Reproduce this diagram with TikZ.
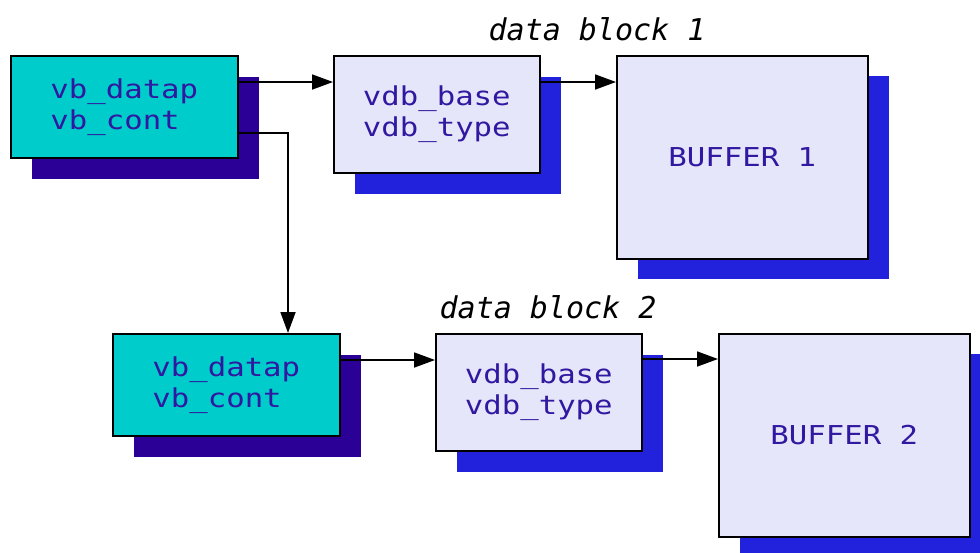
\documentclass[tikz,border=0pt]{standalone}
\usepackage{fontspec}
\newfontfamily\boxfont[FakeStretch=1.18]{DejaVu Sans Mono}
\newfontfamily\lblfont{DejaVu Sans Mono}
\usetikzlibrary{arrows.meta,shadows,calc}
\definecolor{tealfill}{RGB}{0,204,204}
\definecolor{navyshadow}{RGB}{42,0,150}
\definecolor{lavfill}{RGB}{230,230,250}
\definecolor{blueshadow}{RGB}{34,34,221}
\definecolor{txtblue}{RGB}{48,24,160}
\begin{document}
\begin{tikzpicture}[x=1pt,y=-1pt,
  box/.style={draw=black, line width=1.6pt, inner sep=0pt, anchor=north west,
    font=\boxfont\fontsize{26}{31}\selectfont, text=txtblue, align=left},
  vbbox/.style={box, fill=tealfill, minimum width=227pt, minimum height=102pt,
    general shadow={draw=none, fill=navyshadow, shadow xshift=21pt, shadow yshift=-21pt}},
  vdbbox/.style={box, fill=lavfill, minimum width=206pt, minimum height=117pt,
    general shadow={draw=none, fill=blueshadow, shadow xshift=21pt, shadow yshift=-21pt}},
  bufbox/.style={box, fill=lavfill, minimum width=251pt, minimum height=203pt,
    general shadow={draw=none, fill=blueshadow, shadow xshift=21pt, shadow yshift=-20pt}},
  lbl/.style={font=\lblfont\itshape\fontsize{30}{36}\selectfont, text=black, inner sep=0pt, anchor=base},
  arr/.style={line width=1.8pt, -{Triangle[length=21pt,width=15pt]}}
]
\useasboundingbox (0,0) rectangle (980,552);
\clip (0,0) rectangle (980,552);

\node[vbbox] (a1) at (10,55) {vb\_datap\\vb\_cont};
\node[vdbbox] (b1) at (333,55) {vdb\_base\\vdb\_type};
\node[bufbox] (c1) at (616,55) {BUFFER 1};

\node[vbbox] (a2) at (112,333) {vb\_datap\\vb\_cont};
\node[vdbbox] (b2) at (435,333) {vdb\_base\\vdb\_type};
\node[bufbox] (c2) at (718,333) {BUFFER 2};

\node[lbl] (l1) at (597,40) {data block 1};
\node[lbl] (l2) at (548,318) {data block 2};

\draw[arr] ($(a1.north east)+(0,27)$) -- ($(b1.north west)+(0,27)$);
\draw[arr] ($(b1.north east)+(0,27)$) -- ($(c1.north west)+(0,27)$);
\draw[arr] ($(a2.north east)+(0,27)$) -- ($(b2.north west)+(0,27)$);
\draw[arr] ($(b2.north east)+(0,26)$) -- ($(c2.north west)+(0,26)$);
\draw[arr] ($(a1.north east)+(0,78)$) -| ($(a2.north west)+(176,0)$);
\end{tikzpicture}
\end{document}
